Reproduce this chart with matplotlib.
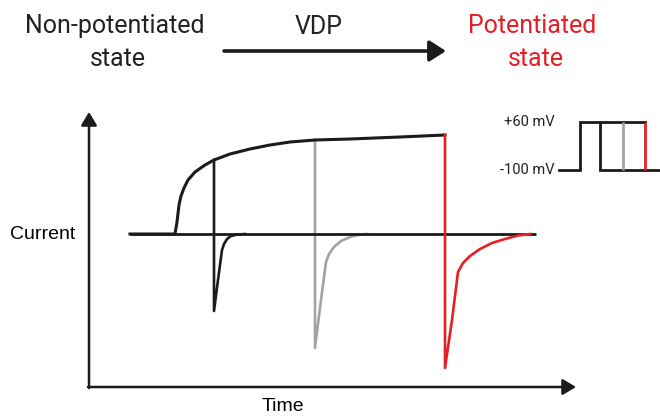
import matplotlib
matplotlib.use("Agg")
import matplotlib.pyplot as plt

# ---------------- data (drawing units: x = time, y = current, canvas 660 x 416, y downward) ----
# holding-current baseline
baseline_t = [130, 536]
baseline_i = [234, 234]

# outward current during the depolarising step (black)
step_t = [130, 175, 177, 179, 181, 184, 188, 195, 205, 214, 230, 250, 270, 290, 315, 350, 400, 445]
step_i = [234, 234, 222, 205, 196, 188, 180, 172, 165, 160, 154, 149, 145, 142, 140, 139, 137, 135]

# tail currents: short (black), medium (gray), long (red) prepulse
tail_black_t = [214, 214, 218, 222, 224, 227, 231, 237, 245]
tail_black_i = [160, 311, 280, 250, 244, 239, 236, 234.5, 234]

tail_gray_t = [315, 315, 321, 326, 329, 334, 341, 350, 358, 367]
tail_gray_i = [140, 348, 300, 262, 254, 247, 241, 237, 235, 234]

tail_red_t = [445, 445, 452, 458, 463, 470, 480, 492, 505, 518, 530]
tail_red_i = [135, 368, 320, 272, 263, 256, 249, 243, 239, 235.5, 234]

# voltage protocol inset
proto_hold_t = [559, 580, 580, 645]
proto_hold_v = [170, 170, 122, 122]
proto_after_t = [600, 660]
proto_after_v = [170, 170]
proto_steps_t = [600, 623, 645]
proto_labels = ["+60 mV", "-100 mV"]
proto_levels = [122, 170]

title_left = ["Non-potentiated", "state"]
title_mid = "VDP"
title_right = ["Potentiated", "state"]
xlabel = "Time"
ylabel = "Current"

BLACK = "#1b1b1b"
GRAY = "#a3a3a3"
RED = "#e41f26"

fig = plt.figure(figsize=(6.6, 4.16), dpi=100)
ax = fig.add_axes([0, 0, 1, 1])
ax.set_xlim(0, 660)
ax.set_ylim(416, 0)
ax.axis("off")

# axes arrows
ax.annotate("", xy=(89, 112), xytext=(89, 388),
            arrowprops=dict(arrowstyle="-|>,head_length=0.5,head_width=0.3",
                            mutation_scale=16, lw=1.8, color=BLACK,
                            shrinkA=0, shrinkB=0))
ax.annotate("", xy=(576, 387), xytext=(88, 387),
            arrowprops=dict(arrowstyle="-|>,head_length=0.5,head_width=0.3",
                            mutation_scale=16, lw=1.8, color=BLACK,
                            shrinkA=0, shrinkB=0))

# traces
ax.plot(baseline_t, baseline_i, color=BLACK, lw=2.0, solid_capstyle="butt", zorder=3)
ax.plot(step_t, step_i, color=BLACK, lw=2.2, solid_joinstyle="round", zorder=3)
ax.plot(tail_black_t, tail_black_i, color=BLACK, lw=1.9, solid_joinstyle="round", zorder=3)
ax.plot(tail_gray_t, tail_gray_i, color=GRAY, lw=1.9, solid_joinstyle="round", zorder=2)
ax.plot(tail_red_t, tail_red_i, color=RED, lw=1.9, solid_joinstyle="round", zorder=4)

# protocol inset
ax.plot(proto_hold_t, proto_hold_v, color=BLACK, lw=2.0, solid_joinstyle="miter", zorder=3)
ax.plot(proto_after_t, proto_after_v, color=BLACK, lw=2.0, zorder=3)
for t, c in zip(proto_steps_t, [BLACK, GRAY, RED]):
    ax.plot([t, t], proto_levels, color=c, lw=2.0, solid_capstyle="butt", zorder=4)
for lab, lv in zip(proto_labels, proto_levels):
    ax.text(555, lv, lab, ha="right", va="center", fontsize=10.5,
            family="Roboto", color="#222222")

# header
hdr = dict(family="Roboto", fontsize=18, va="baseline", ha="center")
ax.text(115, 33, title_left[0], color="#222222", **hdr)
ax.text(118, 66, title_left[1], color="#222222", **hdr)
ax.text(319, 34, title_mid, color="#222222", **hdr)
ax.text(532, 33, title_right[0], color=RED, **hdr)
ax.text(536, 66, title_right[1], color=RED, **hdr)
ax.annotate("", xy=(446, 51), xytext=(224, 51),
            arrowprops=dict(arrowstyle="-|>,head_length=0.55,head_width=0.35",
                            mutation_scale=18, lw=2.6, color=BLACK,
                            shrinkA=0, shrinkB=0))

# axis labels
ax.text(10, 239, ylabel, family="Liberation Sans", fontsize=14, va="baseline", ha="left")
ax.text(283, 411, xlabel, family="Liberation Sans", fontsize=14, va="baseline", ha="center")

fig.savefig("out.png", dpi=100)
